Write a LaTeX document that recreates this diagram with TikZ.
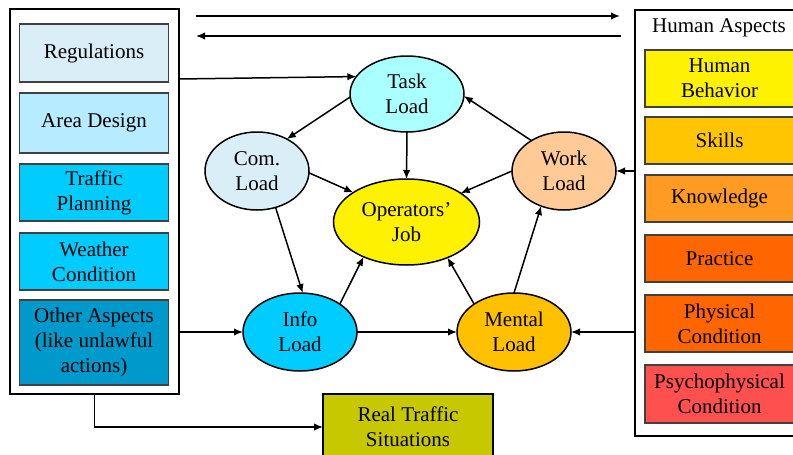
\documentclass[tikz,border=0pt]{standalone}
\usepackage{fontspec}
\setmainfont{Liberation Serif}
\usetikzlibrary{shapes.geometric,arrows.meta}
\definecolor{cReg}{HTML}{DAEEF7}
\definecolor{cArea}{HTML}{B7EBFF}
\definecolor{cSky}{HTML}{00CCFF}
\definecolor{cOther}{HTML}{0099CC}
\definecolor{cTask}{HTML}{AAFFFF}
\definecolor{cWork}{HTML}{FFCA96}
\definecolor{cMental}{HTML}{FFC000}
\definecolor{cReal}{HTML}{C8C800}
\definecolor{cSkill}{HTML}{FFC600}
\definecolor{cKnow}{HTML}{FF9A22}
\definecolor{cPrac}{HTML}{FF6600}
\definecolor{cPsy}{HTML}{FF5050}
\begin{document}
\begin{tikzpicture}[x=1pt,y=-1pt,
  every node/.style={font=\fontsize{21}{25}\selectfont, align=center, text=black},
  outerbox/.style={draw=black, line width=1.5pt, fill=white, inner sep=0pt, outer sep=0pt},
  inbox/.style={draw=black!75, line width=1.5pt, inner sep=0pt, outer sep=0pt, minimum width=149pt},
  oval/.style={ellipse, draw=black, line width=1.5pt, inner sep=0pt, outer sep=0pt},
  arr/.style={-{Latex[length=9pt,width=7.5pt]}, line width=1.5pt},
  link/.style={line width=1.5pt}]
\useasboundingbox (0,0) rectangle (793,455);
\clip (0,0) rectangle (793,455);

% left group
\node[outerbox, minimum width=169pt, minimum height=385pt] (leftbox) at (94.5,201.5) {};
\node[inbox, fill=cReg, minimum height=58pt] (reg) at (94,53) {Regulations};
\node[inbox, fill=cArea, minimum height=60pt] (area) at (94,123) {Area Design};
\node[inbox, fill=cSky, minimum height=57pt] (traffic) at (94,192.5) {Traffic\\Planning};
\node[inbox, fill=cSky, minimum height=57pt] (weather) at (94,261.5) {Weather\\Condition};
\node[inbox, fill=cOther, minimum height=85pt] (other) at (94,342.5) {Other Aspects\\(like unlawful\\actions)};

% right group
\node[outerbox, minimum width=165pt, minimum height=426pt] (rightbox) at (717.5,223) {};
\node (human) at (719,28) {Human Aspects};
\node[inbox, fill=yellow, minimum height=57pt] (behav) at (719.5,78.5) {Human\\Behavior};
\node[inbox, fill=cSkill, minimum height=47pt] (skills) at (719.5,140.5) {Skills};
\node[inbox, fill=cKnow, minimum height=47pt] (know) at (719.5,198.5) {Knowledge};
\node[inbox, fill=cPrac, minimum height=47pt] (prac) at (719.5,258.5) {Practice};
\node[inbox, fill=cPrac, minimum height=57pt] (phys) at (719.5,323.5) {Physical\\Condition};
\node[inbox, fill=cPsy, minimum height=58pt] (psy) at (719.5,394) {Psychophysical\\Condition};

% real traffic
\node[inbox, draw=black, fill=cReal, minimum width=170pt, minimum height=66pt] (real) at (408,427) {Real Traffic\\Situations};

% ellipses
\node[oval, fill=cTask, minimum width=114pt, minimum height=76pt] (task) at (407,94) {Task\\Load};
\node[oval, fill=cReg, minimum width=104pt, minimum height=78pt] (com) at (257,171) {Com.\\Load};
\node[oval, fill=cWork, minimum width=104pt, minimum height=78pt] (work) at (564,171) {Work\\Load};
\node[oval, fill=yellow, minimum width=146pt, minimum height=86pt] (job) at (406.5,222) {Operators’\\Job};
\node[oval, fill=cSky, minimum width=114pt, minimum height=78pt] (info) at (300,332) {Info\\Load};
\node[oval, fill=cMental, minimum width=114pt, minimum height=78pt] (mental) at (514,332) {Mental\\Load};

% top arrows
\coordinate (t1) at (196,16);
\coordinate (t2) at (620,16);
\coordinate (t3) at (621,36);
\coordinate (t4) at (196,36);
\draw[arr] (t1) -- (t2);
\draw[arr] (t3) -- (t4);

% connectors
\draw[arr] ([yshift=-70pt]leftbox.north east) -- (task.161);
\draw[arr] (task.183) -- (com.47);
\draw[arr] (task.270) -- (job.90);
\draw[arr] (com.358) -- (job.151);
\draw[arr] (work.180) -- (job.28);
\draw[arr] (work.137) -- (task.358);
\draw[arr] (com.297) -- (info.86);
\draw[arr] (info.35) -- (job.219);
\draw[arr] (mental.145) -- (job.319);
\draw[arr] (mental.90) -- (work.237);
\draw[arr] (info.east) -- (mental.west);
\draw[arr] (leftbox.east |- info.west) -- (info.west);
\draw[arr] (rightbox.west |- mental.east) -- (mental.east);
\draw[arr] (rightbox.west |- work.east) -- (work.east);
\draw[arr] (leftbox.south) |- (real.west);
\end{tikzpicture}
\end{document}
